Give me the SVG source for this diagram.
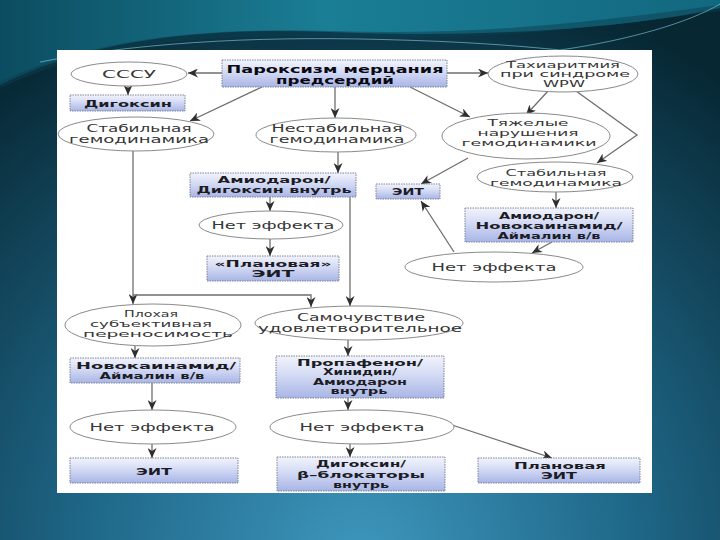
<svg xmlns="http://www.w3.org/2000/svg" width="720" height="540" viewBox="0 0 720 540">
<defs>
  <radialGradient id="bg" cx="360" cy="560" r="600" gradientUnits="userSpaceOnUse">
    <stop offset="0" stop-color="#3e97bd"/>
    <stop offset="0.45" stop-color="#1f6889"/>
    <stop offset="1" stop-color="#072733"/>
  </radialGradient>
  <linearGradient id="top" x1="0" y1="0" x2="720" y2="0" gradientUnits="userSpaceOnUse">
    <stop offset="0" stop-color="#0c4c60"/>
    <stop offset="0.45" stop-color="#1a7e95"/>
    <stop offset="1" stop-color="#12687f"/>
  </linearGradient>
  <linearGradient id="box" x1="0" y1="0" x2="0" y2="1">
    <stop offset="0" stop-color="#f2f4fc"/>
    <stop offset="0.5" stop-color="#d0d7f3"/>
    <stop offset="1" stop-color="#a8b5e6"/>
  </linearGradient>
  <marker id="ah" markerUnits="userSpaceOnUse" markerWidth="10" markerHeight="9" refX="10" refY="4.5" orient="auto">
    <path d="M0,0 L10,4.5 L0,9 L3,4.5 Z" fill="#2e2e2e"/>
  </marker>
  <style>
    .bx { fill: url(#box); stroke: #7d8396; stroke-width: 1; stroke-dasharray: 1.5 1; }
    .el { fill: #ffffff; stroke: #8a8a8a; stroke-width: 1; }
    .tb { font-family: "DejaVu Sans", "Liberation Sans", sans-serif; font-size: 9.5px; font-weight: bold; fill: #1c1c24; text-anchor: middle; }
    .tt { font-family: "DejaVu Sans", "Liberation Sans", sans-serif; font-size: 10.5px; font-weight: bold; fill: #0a0a10; text-anchor: middle; }
    .te { font-family: "DejaVu Sans", "Liberation Sans", sans-serif; font-size: 10px; fill: #363636; text-anchor: middle; }
    .s9 { font-size: 8.5px; }
    .cn { fill: none; stroke: #6e6e6e; stroke-width: 1.3; }
    .cn path, .cn polyline, .cn line { marker-end: url(#ah); }
  </style>
</defs>

<!-- background -->
<rect x="0" y="0" width="720" height="540" fill="url(#bg)"/>
<path d="M0,0 H720 V8 C620,30 470,38 330,32 C200,27 90,40 0,85 Z" fill="url(#top)"/>
<path d="M0,85 C90,42 200,30 330,34 C460,38 560,30 720,8" fill="none" stroke="#0b3e50" stroke-width="6" opacity="0.5"/>
<path d="M40,62 C150,40 280,36 400,40 C470,42 520,46 560,50" fill="none" stroke="#8fdcec" stroke-width="0.8" opacity="0.7"/>
<path d="M560,50 C630,40 690,22 720,4" fill="none" stroke="#8fdcec" stroke-width="0.8" opacity="0.7"/>

<!-- panel -->
<rect x="57" y="50" width="595" height="443" fill="#ffffff"/>

<!-- connectors -->
<g id="connectors" class="cn">
  <line x1="222" y1="73" x2="188" y2="73"/>
  <line x1="128" y1="86" x2="128" y2="95"/>
  <line x1="262" y1="87" x2="190" y2="121"/>
  <line x1="335" y1="87" x2="335" y2="118"/>
  <line x1="410" y1="87" x2="470" y2="117"/>
  <line x1="447" y1="73" x2="488" y2="73"/>
  <line x1="548" y1="91" x2="526" y2="115"/>
  <polyline points="576,91 637,135 597,163"/>
  <line x1="468" y1="158" x2="421" y2="184"/>
  <line x1="556" y1="192" x2="556" y2="208"/>
  <line x1="552" y1="242" x2="532" y2="253"/>
  <line x1="454" y1="252" x2="421" y2="201"/>
  <line x1="338" y1="152" x2="338" y2="173"/>
  <line x1="270" y1="197" x2="270" y2="211"/>
  <line x1="270" y1="239" x2="270" y2="256"/>
  <line x1="133" y1="151" x2="133" y2="304"/>
  <polyline points="133,295 311,295 311,307"/>
  <line x1="350" y1="197" x2="350" y2="306"/>
  <line x1="135" y1="346" x2="135" y2="358"/>
  <line x1="348" y1="340" x2="348" y2="356"/>
  <line x1="152" y1="383" x2="152" y2="410"/>
  <line x1="348" y1="398" x2="348" y2="410"/>
  <line x1="152" y1="444" x2="152" y2="458"/>
  <line x1="350" y1="444" x2="350" y2="457"/>
  <line x1="446" y1="423" x2="552" y2="458"/>
</g>

<!-- nodes -->
<g id="n-title">
  <rect class="bx" x="222" y="60" width="225" height="27"/>
  <text class="tt" x="335" y="73" textLength="217" lengthAdjust="spacingAndGlyphs">Пароксизм мерцания</text>
  <text class="tt" x="335" y="84" textLength="118" lengthAdjust="spacingAndGlyphs">предсердий</text>
</g>
<g id="n-sssu">
  <ellipse class="el" cx="129" cy="74" rx="58" ry="12"/>
  <text class="te" x="129" y="78" textLength="54" lengthAdjust="spacingAndGlyphs">СССУ</text>
</g>
<g id="n-digoksin">
  <rect class="bx" x="70" y="95" width="115" height="16"/>
  <text class="tb" x="128" y="107" textLength="88" lengthAdjust="spacingAndGlyphs">Дигоксин</text>
</g>
<g id="n-wpw">
  <ellipse class="el" cx="563" cy="74" rx="75" ry="18"/>
  <text class="te s9" x="563" y="67.5" textLength="114" lengthAdjust="spacingAndGlyphs">Тахиаритмия</text>
  <text class="te s9" x="565" y="77" textLength="130" lengthAdjust="spacingAndGlyphs">при синдроме</text>
  <text class="te s9" x="564" y="87" textLength="42" lengthAdjust="spacingAndGlyphs">WPW</text>
</g>
<g id="n-stab-l">
  <ellipse class="el" cx="136" cy="134" rx="78" ry="17"/>
  <text class="te" x="139" y="132" textLength="105" lengthAdjust="spacingAndGlyphs">Стабильная</text>
  <text class="te" x="139" y="143" textLength="140" lengthAdjust="spacingAndGlyphs">гемодинамика</text>
</g>
<g id="n-nestab">
  <ellipse class="el" cx="336" cy="135" rx="80" ry="17"/>
  <text class="te" x="337" y="132" textLength="131" lengthAdjust="spacingAndGlyphs">Нестабильная</text>
  <text class="te" x="337" y="143" textLength="135" lengthAdjust="spacingAndGlyphs">гемодинамика</text>
</g>
<g id="n-tyazh">
  <ellipse class="el" cx="526" cy="136" rx="84" ry="23"/>
  <text class="te s9" x="528" y="126" textLength="81" lengthAdjust="spacingAndGlyphs">Тяжелые</text>
  <text class="te s9" x="528" y="136" textLength="101" lengthAdjust="spacingAndGlyphs">нарушения</text>
  <text class="te s9" x="529" y="146" textLength="135" lengthAdjust="spacingAndGlyphs">гемодинамики</text>
</g>
<g id="n-stab-r">
  <ellipse class="el" cx="555" cy="177" rx="78" ry="15"/>
  <text class="te s9" x="556" y="175.5" textLength="101" lengthAdjust="spacingAndGlyphs">Стабильная</text>
  <text class="te s9" x="556" y="186" textLength="132" lengthAdjust="spacingAndGlyphs">гемодинамика</text>
</g>
<g id="n-eit1">
  <rect class="bx" x="376" y="184" width="64" height="15"/>
  <text class="tb" x="408" y="195" textLength="32" lengthAdjust="spacingAndGlyphs">ЭИТ</text>
</g>
<g id="n-amio-dig">
  <rect class="bx" x="190" y="173" width="166" height="24"/>
  <text class="tb s9" x="274" y="183" textLength="113" lengthAdjust="spacingAndGlyphs">Амиодарон/</text>
  <text class="tb s9" x="274" y="193" textLength="155" lengthAdjust="spacingAndGlyphs">Дигоксин внутрь</text>
</g>
<g id="n-net1">
  <ellipse class="el" cx="271" cy="225" rx="72" ry="14"/>
  <text class="te" x="273" y="229" textLength="123" lengthAdjust="spacingAndGlyphs">Нет эффекта</text>
</g>
<g id="n-plan1">
  <rect class="bx" x="207" y="256" width="132" height="25"/>
  <text class="tb s9" x="273" y="267" textLength="117" lengthAdjust="spacingAndGlyphs">«Плановая»</text>
  <text class="tb s9" x="273" y="277" textLength="43" lengthAdjust="spacingAndGlyphs">ЭИТ</text>
</g>
<g id="n-amio-nov">
  <rect class="bx" x="465" y="208" width="168" height="34"/>
  <text class="tb s9" x="549" y="219" textLength="100" lengthAdjust="spacingAndGlyphs">Амиодарон/</text>
  <text class="tb s9" x="549" y="229" textLength="147" lengthAdjust="spacingAndGlyphs">Новокаинамид/</text>
  <text class="tb s9" x="549" y="239" textLength="103" lengthAdjust="spacingAndGlyphs">Аймалин в/в</text>
</g>
<g id="n-net2">
  <ellipse class="el" cx="494" cy="267" rx="89" ry="15"/>
  <text class="te" x="494" y="271" textLength="125" lengthAdjust="spacingAndGlyphs">Нет эффекта</text>
</g>
<g id="n-ploh">
  <ellipse class="el" cx="153" cy="325" rx="88" ry="21"/>
  <text class="te s9" x="151" y="317" textLength="54" lengthAdjust="spacingAndGlyphs">Плохая</text>
  <text class="te s9" x="151" y="327" textLength="122" lengthAdjust="spacingAndGlyphs">субъективная</text>
  <text class="te s9" x="158" y="337" textLength="150" lengthAdjust="spacingAndGlyphs">переносимость</text>
</g>
<g id="n-samo">
  <ellipse class="el" cx="359" cy="323" rx="104" ry="17"/>
  <text class="te" x="361" y="321" textLength="128" lengthAdjust="spacingAndGlyphs">Самочувствие</text>
  <text class="te" x="360" y="332" textLength="204" lengthAdjust="spacingAndGlyphs">удовлетворительное</text>
</g>
<g id="n-nov">
  <rect class="bx" x="70" y="358" width="170" height="25"/>
  <text class="tb s9" x="156" y="369" textLength="160" lengthAdjust="spacingAndGlyphs">Новокаинамид/</text>
  <text class="tb s9" x="152" y="379" textLength="105" lengthAdjust="spacingAndGlyphs">Аймалин в/в</text>
</g>
<g id="n-prop">
  <rect class="bx" x="276" y="356" width="168" height="42"/>
  <text class="tb s9" x="360" y="365.5" textLength="126" lengthAdjust="spacingAndGlyphs">Пропафенон/</text>
  <text class="tb s9" x="360" y="375" textLength="74" lengthAdjust="spacingAndGlyphs">Хинидин/</text>
  <text class="tb s9" x="360" y="384.5" textLength="94" lengthAdjust="spacingAndGlyphs">Амиодарон</text>
  <text class="tb s9" x="359" y="394" textLength="57" lengthAdjust="spacingAndGlyphs">внутрь</text>
</g>
<g id="n-net3">
  <ellipse class="el" cx="153" cy="427" rx="83" ry="17"/>
  <text class="te" x="152" y="431" textLength="125" lengthAdjust="spacingAndGlyphs">Нет эффекта</text>
</g>
<g id="n-net4">
  <ellipse class="el" cx="362" cy="427" rx="92" ry="17"/>
  <text class="te" x="362" y="431" textLength="125" lengthAdjust="spacingAndGlyphs">Нет эффекта</text>
</g>
<g id="n-eit2">
  <rect class="bx" x="70" y="458" width="168" height="25"/>
  <text class="tb" x="154" y="475" textLength="36" lengthAdjust="spacingAndGlyphs">ЭИТ</text>
</g>
<g id="n-dig-beta">
  <rect class="bx" x="277" y="457" width="168" height="34"/>
  <text class="tb s9" x="361" y="467" textLength="90" lengthAdjust="spacingAndGlyphs">Дигоксин/</text>
  <text class="tb s9" x="361" y="477.5" textLength="128" lengthAdjust="spacingAndGlyphs">β–блокаторы</text>
  <text class="tb s9" x="361" y="488" textLength="56" lengthAdjust="spacingAndGlyphs">внутрь</text>
</g>
<g id="n-plan2">
  <rect class="bx" x="478" y="458" width="162" height="25"/>
  <text class="tb s9" x="560" y="469" textLength="92" lengthAdjust="spacingAndGlyphs">Плановая</text>
  <text class="tb s9" x="559" y="479" textLength="36" lengthAdjust="spacingAndGlyphs">ЭИТ</text>
</g>
</svg>
